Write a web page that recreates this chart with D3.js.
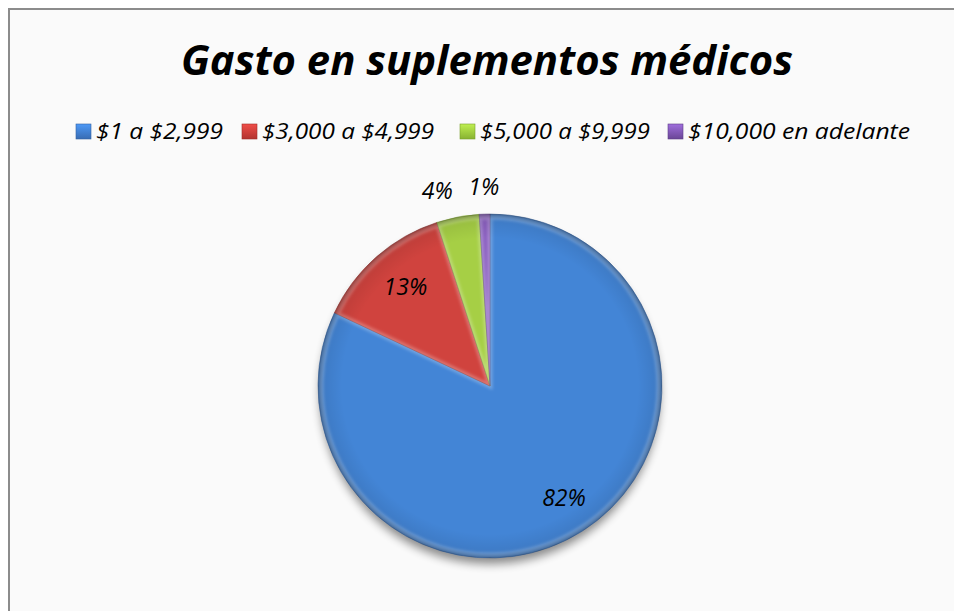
<!DOCTYPE html>
<html>
<head>
<meta charset="utf-8">
<script src="https://cdn.jsdelivr.net/npm/d3@7"></script>
<style>
  html, body { margin: 0; padding: 0; background: #ffffff; }
  svg { display: block; }
  text { font-family: "Open Sans", "Noto Sans", sans-serif; font-style: italic; fill: #000; }
</style>
</head>
<body>
<svg id="chart"></svg>
<script>
var title = "Gasto en suplementos médicos"
var categories = ["$1 a $2,999", "$3,000 a $4,999", "$5,000 a $9,999", "$10,000 en adelante"]
var values = [82, 13, 4, 1]
var topColors = ["#4385d6", "#d0433e", "#a6cf45", "#8a5fc0"]
var bottomColors = ["#386cb3", "#b2332f", "#88b232", "#6a4696"]

var W = 954, H = 611
var cx = 490, cy = 386, r = 172

var svg = d3.select("#chart").attr("width", W).attr("height", H)
var defs = svg.append("defs")

// frame, open on the right and bottom like the cropped original
svg.append("rect")
    .attr("x", 9).attr("y", 9)
    .attr("width", W + 20).attr("height", H + 20)
    .attr("fill", "#fafafa")
    .attr("stroke", "#8c8c8c")
    .attr("stroke-width", 2)

// one vertical gradient per slice
categories.forEach(function(c, i) {
    var g = defs.append("linearGradient")
        .attr("id", "grad" + i)
        .attr("gradientUnits", "userSpaceOnUse")
        .attr("x1", 0).attr("y1", cy - r)
        .attr("x2", 0).attr("y2", cy + r)
    g.append("stop").attr("offset", "0%").attr("stop-color", topColors[i])
    g.append("stop").attr("offset", "100%").attr("stop-color", bottomColors[i])
    // small gradient for the legend squares
    var lg = defs.append("linearGradient")
        .attr("id", "lgrad" + i)
        .attr("x1", 0).attr("y1", 0).attr("x2", 0).attr("y2", 1)
    lg.append("stop").attr("offset", "0%").attr("stop-color", d3.color(topColors[i]).brighter(0.4))
    lg.append("stop").attr("offset", "100%").attr("stop-color", bottomColors[i])
})

var rim = defs.append("radialGradient")
    .attr("id", "rim")
    .attr("gradientUnits", "userSpaceOnUse")
    .attr("cx", cx).attr("cy", cy).attr("r", r)
rim.append("stop").attr("offset", "0.86").attr("stop-color", "#000").attr("stop-opacity", 0)
rim.append("stop").attr("offset", "0.97").attr("stop-color", "#000").attr("stop-opacity", 0.08)
rim.append("stop").attr("offset", "1").attr("stop-color", "#000").attr("stop-opacity", 0.3)

var blur = defs.append("filter").attr("id", "blur")
    .attr("x", "-20%").attr("y", "-20%").attr("width", "140%").attr("height", "140%")
blur.append("feGaussianBlur").attr("stdDeviation", 5)

var soft = defs.append("filter").attr("id", "soft")
soft.append("feGaussianBlur").attr("stdDeviation", 1.8)

// title
svg.append("text")
    .attr("x", 487).attr("y", 75)
    .attr("text-anchor", "middle")
    .attr("font-size", 42)
    .attr("font-weight", "bold")
    .attr("textLength", 612)
    .attr("lengthAdjust", "spacingAndGlyphs")
    .text(title)

// legend
var legendX = [76, 242, 460, 668]
var legendW = [127, 172, 170, 222]
var legend = svg.append("g").attr("class", "legend")
categories.forEach(function(c, i) {
    legend.append("rect")
        .attr("x", legendX[i]).attr("y", 124)
        .attr("width", 15).attr("height", 15)
        .attr("fill", "url(#lgrad" + i + ")")
        .attr("stroke", d3.color(bottomColors[i]).darker(0.3))
        .attr("stroke-width", 0.6)
    legend.append("text")
        .attr("x", legendX[i] + 20).attr("y", 139)
        .attr("font-size", 21)
        .attr("textLength", legendW[i])
        .attr("lengthAdjust", "spacingAndGlyphs")
        .text(c)
})

var pie = d3.pie().sort(null).value(function(d) { return d })
var arcs = pie(values)
var arc = d3.arc().innerRadius(0).outerRadius(r)

// shadow under the pie
svg.append("ellipse")
    .attr("cx", cx).attr("cy", cy + 7)
    .attr("rx", r - 2).attr("ry", r - 1)
    .attr("fill", "#000").attr("opacity", 0.45)
    .attr("filter", "url(#blur)")

var g = svg.append("g").attr("transform", "translate(" + cx + "," + cy + ")")

g.selectAll("path.slice")
    .data(arcs)
    .enter().append("path")
    .attr("class", "slice")
    .attr("d", arc)
    .attr("fill", function(d, i) { return "url(#grad" + i + ")" })
    .attr("stroke", function(d, i) { return d3.color(bottomColors[i]).darker(0.8) })
    .attr("stroke-opacity", 0.6)
    .attr("stroke-width", 0.8)

// soft bevel highlight along the slice edges
arcs.forEach(function(d, i) {
    defs.append("clipPath").attr("id", "clip" + i)
        .append("path").attr("d", arc(d)).attr("transform", "translate(" + cx + "," + cy + ")")
})
var hl = svg.append("g")
arcs.forEach(function(d, i) {
    hl.append("g").attr("clip-path", "url(#clip" + i + ")")
        .append("path")
        .attr("d", d3.arc().innerRadius(0).outerRadius(r - 3)(d))
        .attr("transform", "translate(" + cx + "," + cy + ")")
        .attr("fill", "none")
        .attr("stroke", "#ffffff")
        .attr("stroke-opacity", 0.25)
        .attr("stroke-width", 5)
        .attr("filter", "url(#soft)")
})

svg.append("circle")
    .attr("cx", cx).attr("cy", cy).attr("r", r)
    .attr("fill", "url(#rim)")
    .style("pointer-events", "none")

// data labels: inside for big slices, outside for tiny ones
var inner = d3.arc().innerRadius(r * 0.77).outerRadius(r * 0.77)
var outer = d3.arc().innerRadius(r + 27).outerRadius(r + 27)
var total = d3.sum(values)
arcs.forEach(function(d, i) {
    var share = d.value / total
    var p = share > 0.08 ? inner.centroid(d) : outer.centroid(d)
    var anchor = "middle"
    if (share <= 0.08 && p[0] < -15) anchor = "end"
    svg.append("text")
        .attr("x", cx + p[0] + (share > 0.08 ? 3 : 0)).attr("y", cy + p[1])
        .attr("dy", "0.35em")
        .attr("text-anchor", anchor)
        .attr("font-size", 23)
        .text(Math.round(share * 100) + "%")
})
</script>
</body>
</html>
